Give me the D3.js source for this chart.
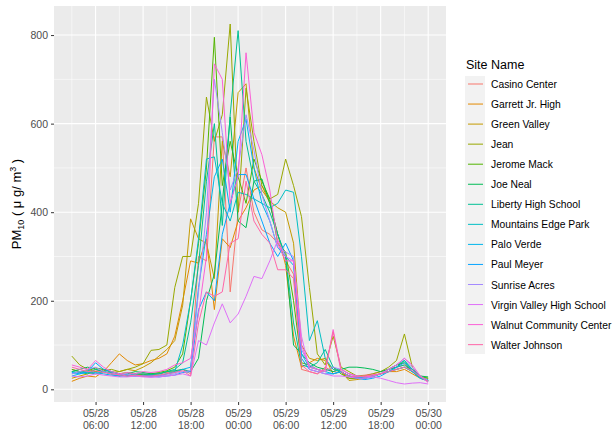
<!DOCTYPE html>
<html>
<head>
<meta charset="utf-8">
<script src="https://cdn.jsdelivr.net/npm/d3@7"></script>
<style>
  body { margin: 0; background: #fff; }
  text { font-family: "Liberation Sans", Arial, sans-serif; }
</style>
</head>
<body>
<svg id="chart" width="615" height="434"></svg>
<script>
// hourly readings, 05/28 03:00 .. 05/30 00:00
var times = d3.timeHour.range(new Date(2019, 4, 28, 3), new Date(2019, 4, 30, 1));

var siteNames = ["Casino Center", "Garrett Jr. High", "Green Valley", "Jean", "Jerome Mack",
  "Joe Neal", "Liberty High School", "Mountains Edge Park", "Palo Verde", "Paul Meyer",
  "Sunrise Acres", "Virgin Valley High School", "Walnut Community Center", "Walter Johnson"];

var casinoCenter = [45,40,38,35,40,35,32,30,32,35, 33,35,38,40,45,35,300,290,570,570,
  220,400,500,400,360,350,330,290,260,45, 40,35,50,40,45,35,30,32,35,40, 45,50,55,45,30,20];
var garrettJrHigh = [18,25,30,28,40,60,80,65,55,58, 65,70,80,120,200,290,285,340,180,340,
  320,380,410,450,460,420,350,280,120,50, 60,70,65,45,40,25,25,30,30,35, 40,40,45,35,25,20];
var greenValley = [25,30,35,40,45,38,40,45,42,50, 60,75,90,110,190,385,340,330,250,560,
  480,670,690,500,450,425,410,400,330,100, 70,65,70,35,40,20,22,25,30,35, 40,45,50,40,30,25];
var jean = [75,55,45,40,42,45,40,45,50,58, 88,90,100,230,300,300,420,660,560,620,
  825,400,680,560,460,430,440,520,460,390, 230,80,55,120,50,40,30,30,35,40, 50,65,125,50,25,20];
var jeromeMack = [45,40,42,48,45,40,35,38,35,33, 35,38,42,50,80,200,330,500,795,460,
  560,480,420,520,470,430,330,310,200,60, 55,45,40,50,35,25,25,28,30,35, 45,55,60,40,28,25];
var joeNeal = [40,45,50,45,40,35,30,35,40,38, 35,35,40,42,45,40,70,200,260,420,
  615,380,365,470,475,420,350,300,100,80, 60,50,45,40,45,50,50,48,45,40, 45,50,65,45,30,28];
var libertyHigh = [40,38,35,45,40,35,30,32,35,35, 33,35,40,45,60,150,280,470,600,370,
  620,810,560,470,440,400,350,300,150,55, 50,60,90,50,40,30,25,28,30,35, 40,50,55,40,25,22];
var mountainsEdge = [35,40,38,35,40,38,35,30,30,32, 30,32,35,40,100,200,340,520,525,420,
  380,445,440,430,420,410,420,450,445,300, 110,155,70,45,40,30,25,25,28,35, 45,55,65,40,25,20];
var paloVerde = [30,35,40,38,35,32,30,30,33,30, 30,30,35,38,45,50,230,350,480,520,
  400,560,610,500,420,380,320,300,280,80, 50,45,40,35,40,30,28,25,30,35, 40,45,50,40,25,18];
var paulMeyer = [38,35,40,60,45,40,35,32,30,30, 30,28,30,32,38,40,180,220,200,350,
  420,485,485,430,380,330,300,330,290,70, 45,40,35,35,40,30,25,22,25,30, 40,50,60,45,28,20];
var sunriseAcres = [35,40,45,50,40,35,32,35,30,30, 28,30,32,35,40,42,220,400,700,580,
  450,500,620,540,440,380,320,310,300,90, 55,45,40,50,45,35,30,28,30,35, 45,55,70,50,30,20];
var virginValley = [30,28,30,35,32,30,28,28,30,28, 27,28,30,32,35,30,110,100,150,193,
  150,170,210,255,250,290,337,300,290,120, 45,40,35,30,30,28,25,25,28,25, 20,15,12,14,15,12];
var walnut = [55,50,45,65,50,40,35,38,35,40, 38,40,45,55,60,70,170,300,735,700,
  420,480,760,580,530,450,330,290,290,100, 50,45,40,135,45,35,30,28,30,35, 45,55,70,55,30,15];
var walterJohnson = [50,45,40,42,38,35,33,30,32,30, 30,32,35,38,42,30,150,220,210,220,
  330,340,470,380,350,330,270,270,250,55, 40,35,45,130,40,30,28,30,33,35, 40,45,50,42,28,18];

var seriesValues = [casinoCenter, garrettJrHigh, greenValley, jean, jeromeMack, joeNeal,
  libertyHigh, mountainsEdge, paloVerde, paulMeyer, sunriseAcres, virginValley, walnut, walterJohnson];

var yTicks = [0, 200, 400, 600, 800];

// ggplot hue palette for 14 levels
var palette = ["#F8766D", "#E38900", "#C49A00", "#99A800", "#53B400", "#00BC56", "#00C094",
  "#00BFC4", "#00B6EB", "#06A4FF", "#A58AFF", "#DF70F8", "#FB61D7", "#FF66A8"];

var series = siteNames.map(function(name, i) {
  return { name: name, values: seriesValues[i].map(function(v, j) { return { t: times[j], v: v }; }) };
});

var svg = d3.select("#chart");
var panel = { left: 54, top: 6, right: 446, bottom: 402 };

// 5% expansion like ggplot
var tExt = d3.extent(times), tPad = (tExt[1] - tExt[0]) * 0.05;
var x = d3.scaleTime()
  .domain([new Date(+tExt[0] - tPad), new Date(+tExt[1] + tPad)])
  .range([panel.left, panel.right]);

var allV = d3.merge(seriesValues), vExt = d3.extent(allV), vPad = (vExt[1] - vExt[0]) * 0.05;
var y = d3.scaleLinear()
  .domain([vExt[0] - vPad, vExt[1] + vPad])
  .range([panel.bottom, panel.top]);

svg.append("rect")
  .attr("x", panel.left).attr("y", panel.top)
  .attr("width", panel.right - panel.left).attr("height", panel.bottom - panel.top)
  .attr("fill", "#EBEBEB");

var majorT = d3.timeHour.every(6).range(new Date(2019, 4, 28, 6), new Date(2019, 4, 30, 1));
var minorT = d3.timeHour.every(3).range(new Date(2019, 4, 28, 3), new Date(2019, 4, 30, 2))
  .filter(function(d) { return d.getHours() % 6 === 3; });
var minorY = [100, 300, 500, 700];

var grid = svg.append("g");
grid.selectAll(".ym").data(minorY).enter().append("line")
  .attr("x1", panel.left).attr("x2", panel.right)
  .attr("y1", function(d) { return y(d); }).attr("y2", function(d) { return y(d); })
  .attr("stroke", "#fff").attr("stroke-width", 0.55);
grid.selectAll(".xm").data(minorT).enter().append("line")
  .attr("y1", panel.top).attr("y2", panel.bottom)
  .attr("x1", function(d) { return x(d); }).attr("x2", function(d) { return x(d); })
  .attr("stroke", "#fff").attr("stroke-width", 0.55);
grid.selectAll(".yM").data(yTicks).enter().append("line")
  .attr("x1", panel.left).attr("x2", panel.right)
  .attr("y1", function(d) { return y(d); }).attr("y2", function(d) { return y(d); })
  .attr("stroke", "#fff").attr("stroke-width", 1.1);
grid.selectAll(".xM").data(majorT).enter().append("line")
  .attr("y1", panel.top).attr("y2", panel.bottom)
  .attr("x1", function(d) { return x(d); }).attr("x2", function(d) { return x(d); })
  .attr("stroke", "#fff").attr("stroke-width", 1.1);

var line = d3.line()
  .x(function(d) { return x(d.t); })
  .y(function(d) { return y(d.v); });

svg.append("g").selectAll("path").data(series).enter().append("path")
  .attr("d", function(d) { return line(d.values); })
  .attr("fill", "none")
  .attr("stroke", function(d, i) { return palette[i]; })
  .attr("stroke-width", 1);

// axes
var yAxis = svg.append("g").attr("transform", "translate(" + panel.left + ",0)")
  .call(d3.axisLeft(y).tickValues(yTicks).tickSize(3).tickPadding(3));
yAxis.select(".domain").remove();
yAxis.selectAll("line").attr("stroke", "#333");
yAxis.selectAll("text").attr("fill", "#4D4D4D").style("font-size", "10.5px");

var fmtDay = d3.timeFormat("%m/%d"), fmtHour = d3.timeFormat("%H:%M");
var xAxis = svg.append("g").attr("transform", "translate(0," + panel.bottom + ")")
  .call(d3.axisBottom(x).tickValues(majorT).tickSize(3).tickFormat(""));
xAxis.select(".domain").remove();
xAxis.selectAll("line").attr("stroke", "#333");
xAxis.selectAll(".tick").each(function(d) {
  var t = d3.select(this).append("text").attr("fill", "#4D4D4D")
    .attr("text-anchor", "middle").style("font-size", "10.5px");
  t.append("tspan").attr("x", 0).attr("y", 15).text(fmtDay(d));
  t.append("tspan").attr("x", 0).attr("y", 27).text(fmtHour(d));
});

// y title
var yt = svg.append("text")
  .attr("transform", "translate(21," + ((panel.top + panel.bottom) / 2) + ") rotate(-90)")
  .attr("text-anchor", "middle").style("font-size", "13px").attr("fill", "#000");
yt.append("tspan").text("PM");
yt.append("tspan").attr("dy", 3).style("font-size", "9px").text("10");
yt.append("tspan").attr("dy", -3).text(" ( \u03bc g/ m");
yt.append("tspan").attr("dy", -5).style("font-size", "9px").text("3");
yt.append("tspan").attr("dy", 5).text(" )");

// legend
var legend = svg.append("g");
legend.append("text").attr("x", 466).attr("y", 69).style("font-size", "12.5px").text("Site Name");
legend.append("rect").attr("x", 465).attr("y", 76).attr("width", 20).attr("height", 278).attr("fill", "#F2F2F2");
var items = legend.selectAll(".item").data(siteNames).enter().append("g")
  .attr("transform", function(d, i) { return "translate(0," + (84 + i * 20.05) + ")"; });
items.append("line").attr("x1", 468).attr("x2", 483).attr("y1", 0).attr("y2", 0)
  .attr("stroke", function(d, i) { return palette[i]; }).attr("stroke-width", 1);
items.append("text").attr("x", 491).attr("y", 4).style("font-size", "10.3px").attr("fill", "#000")
  .text(function(d) { return d; });
</script>
</body>
</html>
